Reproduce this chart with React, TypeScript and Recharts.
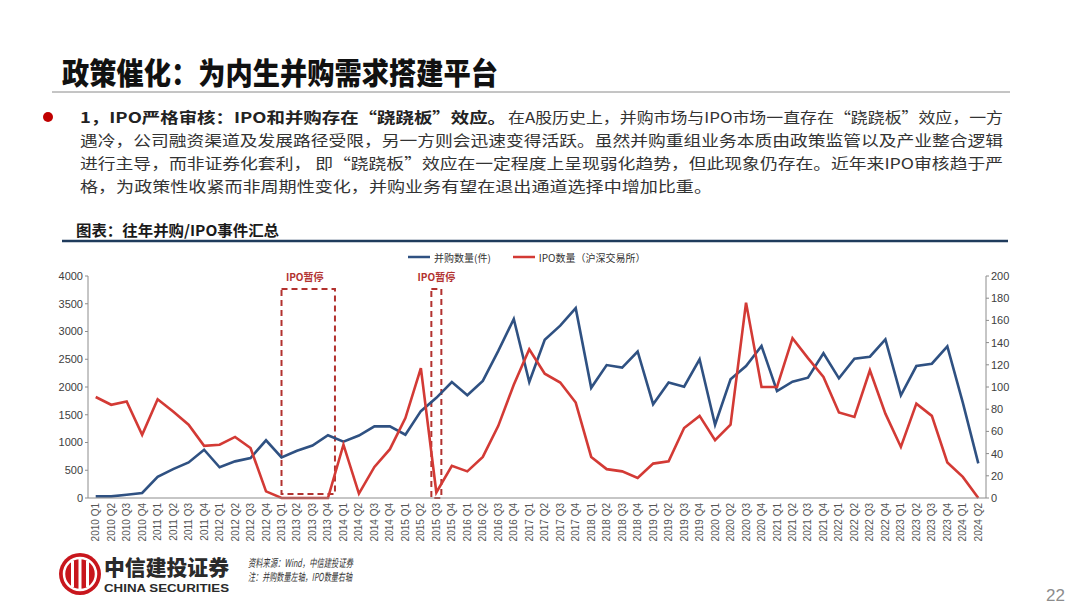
import React from 'react';
import { LineChart, Line, XAxis, YAxis, ReferenceArea, Legend } from 'recharts';

const categories = [
  '2010 Q1', '2010 Q2', '2010 Q3', '2010 Q4',
  '2011 Q1', '2011 Q2', '2011 Q3', '2011 Q4',
  '2012 Q1', '2012 Q2', '2012 Q3', '2012 Q4',
  '2013 Q1', '2013 Q2', '2013 Q3', '2013 Q4',
  '2014 Q1', '2014 Q2', '2014 Q3', '2014 Q4',
  '2015 Q1', '2015 Q2', '2015 Q3', '2015 Q4',
  '2016 Q1', '2016 Q2', '2016 Q3', '2016 Q4',
  '2017 Q1', '2017 Q2', '2017 Q3', '2017 Q4',
  '2018 Q1', '2018 Q2', '2018 Q3', '2018 Q4',
  '2019 Q1', '2019 Q2', '2019 Q3', '2019 Q4',
  '2020 Q1', '2020 Q2', '2020 Q3', '2020 Q4',
  '2021 Q1', '2021 Q2', '2021 Q3', '2021 Q4',
  '2022 Q1', '2022 Q2', '2022 Q3', '2022 Q4',
  '2023 Q1', '2023 Q2', '2023 Q3', '2023 Q4',
  '2024 Q1', '2024 Q2',
];

// 并购数量（件）— left axis
const mergerCounts = [
  30, 30, 60, 90,
  380, 520, 640, 870,
  553, 660, 720, 1040,
  730, 850, 945, 1130,
  1015, 1125, 1290, 1290,
  1140, 1565, 1805, 2088,
  1850, 2110, 2650, 3225,
  2090, 2850, 3105, 3420,
  1985, 2395, 2350, 2640,
  1690, 2080, 2005, 2500,
  1320, 2138, 2378, 2739,
  1928, 2096, 2168, 2607,
  2156, 2510, 2546, 2859,
  1850, 2378, 2420, 2733,
  1718, 625,
];

// IPO数量（沪深交易所）— right axis
const ipoCounts = [
  91, 84, 87, 57,
  89, 78, 66, 47,
  48, 55, 45, 6,
  0, 0, 0, 0,
  48, 4, 28, 44,
  72, 117, 5, 29,
  24, 37, 65, 102,
  134, 112, 104, 86,
  37, 26, 24, 18,
  31, 33, 63, 74,
  52, 66, 176, 100,
  100, 144, 126, 109,
  77, 73, 115, 76,
  46, 85, 74, 32,
  19, 0,
];

const leftTicks = [0, 500, 1000, 1500, 2000, 2500, 3000, 3500, 4000];
const rightTicks = [0, 20, 40, 60, 80, 100, 120, 140, 160, 180, 200];

const seriesNames = { merger: '并购数量(件)', ipo: 'IPO数量（沪深交易所）' };

const pauseLabel = 'IPO暂停';
const pause1 = { from: '2013 Q1', to: '2013 Q4', bottom: 70, top: 3765 };
const pause2 = { from: '2015 Q3', to: '2015 Q3', bottom: 0, top: 3765 };

const data = categories.map((q, i) => ({ q, merger: mergerCounts[i], ipo: ipoCounts[i] }));

const BLUE = '#2f5182';
const RED = '#d33a35';
const PAUSE = '#b2322f';
const CJK = '"Noto Sans CJK SC", "Noto Sans", sans-serif';
const NUM = '"Liberation Sans", Arial, sans-serif';

const XTick = (props: any) => {
  const { x, y, payload } = props;
  return (
    <text
      x={x}
      y={y}
      transform={`rotate(-90 ${x} ${y})`}
      textAnchor="end"
      dominantBaseline="central"
      fontSize={10}
      fontFamily={NUM}
      fill="#555"
    >
      {payload.value}
    </text>
  );
};

const LegendContent = () => (
  <div style={{ display: 'flex', alignItems: 'center', fontFamily: CJK, fontSize: 10, color: '#333', height: 14 }}>
    <svg width={24} height={10}><line x1={0} y1={5} x2={22} y2={5} stroke={BLUE} strokeWidth={2.5} /></svg>
    <span style={{ marginLeft: 2, marginRight: 22 }}>{seriesNames.merger}</span>
    <svg width={24} height={10}><line x1={0} y1={5} x2={22} y2={5} stroke={RED} strokeWidth={2.5} /></svg>
    <span style={{ marginLeft: 2 }}>{seriesNames.ipo}</span>
  </div>
);

const box1Shape = (p: any) => (
  <rect x={p.x} y={p.y} width={p.width + 7} height={p.height} fill="none" stroke={PAUSE} strokeWidth={2} strokeDasharray="6 4" />
);
const box2Shape = (p: any) => (
  <rect x={p.x - 5} y={p.y} width={10} height={p.height} fill="none" stroke={PAUSE} strokeWidth={2} strokeDasharray="6 4" />
);

const pauseLabelProps = { value: pauseLabel, position: 'top' as const, offset: 8, fill: PAUSE, fontSize: 10, fontWeight: 700, fontFamily: CJK };

export default function App() {
  return (
    <div style={{ position: 'absolute', left: 0, top: 0, width: 1080, height: 608, background: '#fff', overflow: 'hidden' }}>
      <div style={{ position: 'absolute', left: 0, top: 0 }}>
        <LineChart width={1080} height={608} data={data} margin={{ top: 262, right: 60, bottom: 48, left: 48 }}>
          <XAxis
            dataKey="q"
            interval={0}
            tick={<XTick />}
            tickLine={false}
            tickSize={3}
            tickMargin={2}
            height={62}
            padding={{ left: 7.7, right: 7.7 }}
            stroke="#8c8c8c"
          />
          <YAxis
            yAxisId="left"
            domain={[0, 4000]}
            ticks={leftTicks}
            width={40}
            tickSize={3}
            tick={{ fontSize: 11, fill: '#404040', fontFamily: NUM }}
            stroke="#8c8c8c"
          />
          <YAxis
            yAxisId="right"
            orientation="right"
            domain={[0, 200]}
            ticks={rightTicks}
            width={34}
            tickSize={3}
            tick={{ fontSize: 11, fill: '#404040', fontFamily: NUM }}
            stroke="#8c8c8c"
          />
          <Legend
            verticalAlign="top"
            content={<LegendContent />}
            wrapperStyle={{ position: 'absolute', top: 250, left: 408, width: 320 }}
          />
          <ReferenceArea
            yAxisId="left"
            x1={pause1.from}
            x2={pause1.to}
            y1={pause1.bottom}
            y2={pause1.top}
            shape={box1Shape}
            label={pauseLabelProps}
            ifOverflow="visible"
          />
          <ReferenceArea
            yAxisId="left"
            x1={pause2.from}
            x2={pause2.to}
            y1={pause2.bottom}
            y2={pause2.top}
            shape={box2Shape}
            label={pauseLabelProps}
            ifOverflow="visible"
          />
          <Line yAxisId="left" type="linear" dataKey="merger" name={seriesNames.merger} stroke={BLUE} strokeWidth={2.6} dot={false} isAnimationActive={false} />
          <Line yAxisId="right" type="linear" dataKey="ipo" name={seriesNames.ipo} stroke={RED} strokeWidth={2.6} dot={false} isAnimationActive={false} />
        </LineChart>
      </div>
      <svg width={1080} height={608} style={{ position: 'absolute', left: 0, top: 0, pointerEvents: 'none' }}>
        <text x={62} y={84} fontFamily={CJK} fontSize={30} fontWeight={900} fill="#111" textLength={436} lengthAdjust="spacingAndGlyphs">
          政策催化：为内生并购需求搭建平台
        </text>
        <line x1={52} y1={92} x2={1010} y2={92} stroke="#8a8a8a" strokeWidth={1} />
        <circle cx={48} cy={117} r={5} fill="#c00000" />
        <text x={80} y={123} fontFamily={CJK} fontSize={15} fontWeight={700} fill="#222" textLength={426} lengthAdjust="spacingAndGlyphs">
          1，IPO严格审核：IPO和并购存在“跷跷板”效应。
        </text>
        <text x={508} y={123} fontFamily={CJK} fontSize={15} fill="#333" textLength={495} lengthAdjust="spacingAndGlyphs">
          在A股历史上，并购市场与IPO市场一直存在“跷跷板”效应，一方
        </text>
        <text x={80} y={146} fontFamily={CJK} fontSize={15} fill="#333" textLength={923} lengthAdjust="spacingAndGlyphs">
          遇冷，公司融资渠道及发展路径受限，另一方则会迅速变得活跃。虽然并购重组业务本质由政策监管以及产业整合逻辑
        </text>
        <text x={80} y={169} fontFamily={CJK} fontSize={15} fill="#333" textLength={923} lengthAdjust="spacingAndGlyphs">
          进行主导，而非证券化套利， 即“跷跷板”效应在一定程度上呈现弱化趋势，但此现象仍存在。近年来IPO审核趋于严
        </text>
        <text x={80} y={192} fontFamily={CJK} fontSize={15} fill="#333" textLength={632} lengthAdjust="spacingAndGlyphs">
          格，为政策性收紧而非周期性变化，并购业务有望在退出通道选择中增加比重。
        </text>
        <text x={76} y={236} fontFamily={CJK} fontSize={15} fontWeight={700} fill="#1a1a1a" textLength={203} lengthAdjust="spacingAndGlyphs">
          图表：往年并购/IPO事件汇总
        </text>
        <line x1={62} y1={241} x2={1008} y2={241} stroke="#1f3b5c" strokeWidth={2.5} />

        <circle cx={80} cy={574} r={21} fill="#c8161d" />
        <circle cx={80} cy={574} r={16} fill="none" stroke="#fff" strokeWidth={2.5} />
        <rect x={71} y={561} width={3} height={26} fill="#fff" />
        <rect x={78.5} y={558} width={3} height={32} fill="#fff" />
        <rect x={86} y={561} width={3} height={26} fill="#fff" />
        <text x={104} y={575} fontFamily={CJK} fontSize={21} fontWeight={900} fill="#2a2a2a" textLength={125} lengthAdjust="spacingAndGlyphs">
          中信建投证券
        </text>
        <text x={104} y={592} fontFamily={NUM} fontSize={11} fontWeight={700} fill="#2a2a2a" textLength={125} lengthAdjust="spacingAndGlyphs">
          CHINA SECURITIES
        </text>
        <text x={248} y={567} fontFamily={CJK} fontSize={11} fontStyle="italic" fill="#333" textLength={105} lengthAdjust="spacingAndGlyphs">
          资料来源：Wind，中信建投证券
        </text>
        <text x={248} y={581} fontFamily={CJK} fontSize={11} fontStyle="italic" fill="#333" textLength={104} lengthAdjust="spacingAndGlyphs">
          注：并购数量左轴，IPO数量右轴
        </text>
        <text x={1046} y={601} fontFamily={NUM} fontSize={17} fill="#8c8c8c">
          22
        </text>
      </svg>
    </div>
  );
}
